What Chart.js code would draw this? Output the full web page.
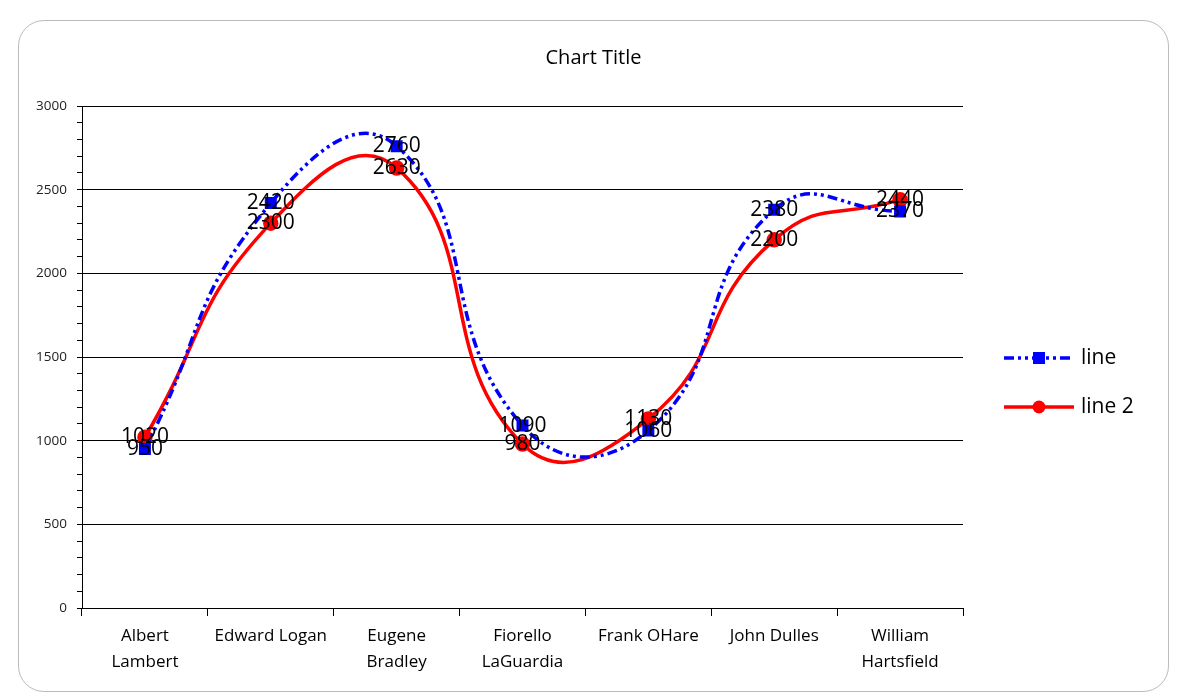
<!DOCTYPE html>
<html>
<head>
<meta charset="utf-8">
<script src="https://cdn.jsdelivr.net/npm/chart.js@4"></script>
<style>
	body { margin: 0; background: #fff; }
	#card {
		position: absolute; left: 18px; top: 20px;
		width: 1151px; height: 672px;
		border: 1px solid #bcbcbc; border-radius: 26px;
		box-sizing: border-box; overflow: hidden; background: #fff;
	}
</style>
</head>
<body>
<div id="card"><canvas id="chart"></canvas></div>
<script>
// datos del grafico
const airports = [
	['Albert', 'Lambert'],
	'Edward Logan',
	['Eugene', 'Bradley'],
	['Fiorello', 'LaGuardia'],
	'Frank OHare',
	'John Dulles',
	['William', 'Hartsfield']
];
const lineValues = [950, 2420, 2760, 1090, 1060, 2380, 2370];
const line2Values = [1020, 2300, 2630, 980, 1130, 2200, 2440];
const seriesNames = ['line', 'line 2'];
const chartTitle = 'Chart Title';

const fontFamily = '"Open Sans", "Liberation Sans", sans-serif';
const labelFont = '21px ' + fontFamily;

// etiquetas de datos centradas sobre cada punto
const dataLabels = {
	id: 'dataLabels',
	afterDatasetsDraw(chart) {
		const ctx = chart.ctx;
		ctx.save();
		ctx.font = labelFont;
		ctx.fillStyle = '#000';
		ctx.textAlign = 'center';
		ctx.textBaseline = 'middle';
		chart.data.datasets.forEach((ds, i) => {
			chart.getDatasetMeta(i).data.forEach((pt, j) => {
				ctx.fillText(ds.data[j], pt.x, pt.y);
			});
		});
		ctx.restore();
	}
};

// titulo centrado sobre todo el lienzo y leyenda a la derecha
const titleAndLegend = {
	id: 'titleAndLegend',
	afterDraw(chart) {
		const ctx = chart.ctx;
		const area = chart.chartArea;
		ctx.save();
		ctx.fillStyle = '#000';
		ctx.font = '20px ' + fontFamily;
		ctx.textAlign = 'center';
		ctx.textBaseline = 'middle';
		ctx.fillText(chartTitle, chart.width / 2, 37);

		const x0 = area.right + 41;
		const x1 = x0 + 70;
		let y = (area.top + area.bottom) / 2 + 1;
		chart.data.datasets.forEach(ds => {
			ctx.strokeStyle = ds.borderColor;
			ctx.lineWidth = ds.borderWidth;
			ctx.setLineDash(ds.borderDash || []);
			ctx.beginPath();
			ctx.moveTo(x0, y);
			ctx.lineTo(x1, y);
			ctx.stroke();
			ctx.setLineDash([]);
			ctx.fillStyle = ds.pointBackgroundColor;
			const cx = (x0 + x1) / 2;
			if (ds.pointStyle === 'rect') {
				ctx.fillRect(cx - 6, y - 6, 12, 12);
			} else {
				ctx.beginPath();
				ctx.arc(cx, y, 6.5, 0, Math.PI * 2);
				ctx.fill();
			}
			ctx.fillStyle = '#000';
			ctx.font = labelFont;
			ctx.textAlign = 'left';
			ctx.fillText(ds.label, x1 + 7, y);
			y += 49;
		});
		ctx.restore();
	}
};

new Chart(document.getElementById('chart'), {
	type: 'line',
	data: {
		labels: airports,
		datasets: [
			{
				label: seriesNames[0],
				data: lineValues,
				borderColor: '#0000ff',
				borderWidth: 3.5,
				borderDash: [10, 4, 3, 4, 3, 4],
				pointStyle: 'rect',
				pointRadius: 6,
				pointBackgroundColor: '#0000ff',
				pointBorderColor: '#0000ff',
				tension: 0.5
			},
			{
				label: seriesNames[1],
				data: line2Values,
				borderColor: '#ff0000',
				borderWidth: 3.5,
				pointStyle: 'circle',
				pointRadius: 6,
				pointBackgroundColor: '#ff0000',
				pointBorderColor: '#ff0000',
				tension: 0.5
			}
		]
	},
	options: {
		responsive: true,
		maintainAspectRatio: false,
		animation: false,
		layout: { padding: { left: 0, right: 205, top: 85, bottom: 0 } },
		elements: { line: { capBezierPoints: false } },
		plugins: {
			legend: { display: false },
			tooltip: { enabled: false },
			title: { display: false }
		},
		scales: {
			x: {
				offset: true,
				grid: {
					offset: true,
					drawOnChartArea: false,
					drawTicks: true,
					tickLength: 8,
					tickColor: '#000'
				},
				border: { color: '#000', width: 1 },
				ticks: {
					color: '#000',
					padding: 7,
					maxRotation: 0,
					autoSkip: false,
					font: { family: fontFamily, size: 17, lineHeight: 1.55 }
				},
				afterFit(scale) { scale.height = 83; }
			},
			y: {
				min: 0,
				max: 3000,
				grid: {
					color: c => (c.tick && c.tick.value % 500 === 0) ? '#000' : 'rgba(0,0,0,0)',
					tickColor: '#000',
					tickLength: 5,
					lineWidth: 1
				},
				border: { color: '#000', width: 1 },
				ticks: {
					stepSize: 100,
					autoSkip: false,
					color: '#222',
					padding: 10,
					font: { family: fontFamily, size: 13.5 },
					callback: v => v % 500 === 0 ? v : ''
				},
				afterFit(scale) { scale.width = 63; }
			}
		}
	},
	plugins: [dataLabels, titleAndLegend]
});
</script>
</body>
</html>
